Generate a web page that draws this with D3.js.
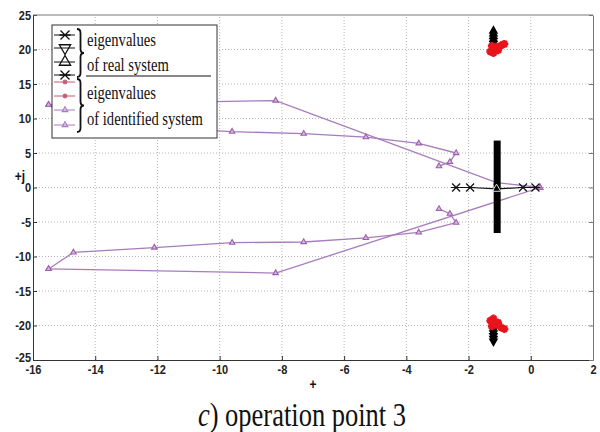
<!DOCTYPE html>
<html>
<head>
<meta charset="utf-8">
<script src="https://d3js.org/d3.v7.min.js"></script>
<style>
body { margin: 0; background: #fff; }
</style>
</head>
<body>
<div id="chart"></div>
<script>
// tick values
var xTicks = [-16, -14, -12, -10, -8, -6, -4, -2, 0, 2]
var yTicks = [-25, -20, -15, -10, -5, 0, 5, 10, 15, 20, 25]

// identified system, purple trajectories [re, im]
var idUpperA = [[-15.5, 12], [-8.2, 12.6], [-1.1, 0.7], [0.3, 0]]
var idUpperB = [[-15.5, 12], [-14.7, 9.4], [-12.1, 8.7], [-9.6, 8.1], [-7.3, 7.8], [-5.3, 7.3], [-3.6, 6.4], [-2.4, 5.0], [-2.6, 3.7], [-2.95, 3.1]]
var idLowerA = [[-15.5, -11.8], [-8.2, -12.4], [0.3, 0]]
var idLowerB = [[-15.5, -11.8], [-14.7, -9.4], [-12.1, -8.7], [-9.6, -8.0], [-7.3, -7.9], [-5.3, -7.3], [-3.6, -6.5], [-2.4, -5.1], [-2.6, -3.8], [-2.95, -3.1]]

// identified system, red points near +-20j
var redTop = [[-1.3, 19.7], [-1.2, 20.1], [-1.1, 20.4], [-0.95, 20.6], [-0.85, 20.8], [-1.25, 20.5], [-1.05, 19.9], [-1.2, 19.5]]
var redBottom = [[-1.3, -19.3], [-1.2, -19.6], [-1.1, -19.9], [-0.95, -20.3], [-0.85, -20.5], [-1.25, -20.1], [-1.05, -19.6], [-1.2, -19.0]]

// real system, black
var realAxis = [[-2.4, 0], [-1.95, 0], [-1.1, -0.2], [-0.25, 0], [0.15, 0]]
var realBar = [[-1.08, 6.8], [-1.08, -6.6]]
var realTop = [[-1.2, 22.7], [-1.2, 22.3], [-1.2, 21.9], [-1.2, 21.5], [-1.2, 21.1], [-1.2, 20.7], [-1.2, 20.3]]
var realBottom = [[-1.2, -20.3], [-1.2, -20.7], [-1.2, -21.1], [-1.2, -21.5], [-1.2, -21.9], [-1.2, -22.3]]

var purple = '#a77cbd'
var purpleMark = '#9c5fae'
var red = '#e8141c'
var serif = "'Liberation Serif', 'Times New Roman', Times, serif"
var sans = "'Liberation Sans', Arial, Helvetica, sans-serif"

var svg = d3.select('#chart').append('svg')
    .attr('width', 600)
    .attr('height', 432)

var x = d3.scaleLinear().domain([-16, 2]).range([33, 593])
var y = d3.scaleLinear().domain([-25, 25]).range([360, 15])

// grid
var grid = svg.append('g')
grid.selectAll('.gx').data(xTicks.slice(1, -1)).join('line')
    .attr('x1', d => x(d)).attr('x2', d => x(d))
    .attr('y1', y(-25)).attr('y2', y(25))
    .attr('stroke', '#b5b5b5').attr('stroke-dasharray', '1,2')
grid.selectAll('.gy').data(yTicks.slice(1, -1)).join('line')
    .attr('x1', x(-16)).attr('x2', x(2))
    .attr('y1', d => y(d)).attr('y2', d => y(d))
    .attr('stroke', '#b5b5b5').attr('stroke-dasharray', '1,2')

// text helper, the picture is stretched a bit vertically
function label(g, str, px, py, size, opts) {
    opts = opts || {}
    return g.append('text')
        .attr('transform', 'translate(' + px + ',' + py + ') scale(1,1.25)')
        .style('font-family', opts.family || serif)
        .style('font-size', size + 'px')
        .style('font-weight', opts.weight || 'normal')
        .attr('text-anchor', opts.anchor || 'start')
        .attr('fill', '#111')
        .text(str)
}

// axes
var xAxis = svg.append('g')
    .attr('transform', 'translate(0,' + y(-25) + ')')
    .call(d3.axisBottom(x).tickValues(xTicks).tickSizeInner(-4).tickSizeOuter(0).tickPadding(4).tickFormat(d => String(d)))
var yAxis = svg.append('g')
    .attr('transform', 'translate(' + x(-16) + ',0)')
    .call(d3.axisLeft(y).tickValues(yTicks).tickSizeInner(-4).tickSizeOuter(0).tickPadding(2).tickFormat(d => String(d)))
var rAxis = svg.append('g')
    .attr('transform', 'translate(' + x(2) + ',0)')
    .call(d3.axisRight(y).tickValues(yTicks).tickSizeInner(-4).tickSizeOuter(0).tickFormat(''))
svg.append('line')
    .attr('x1', x(-16)).attr('x2', x(2))
    .attr('y1', y(25)).attr('y2', y(25))
    .attr('stroke', '#777')

rAxis.selectAll('path, line').attr('stroke', '#777')
xAxis.selectAll('path, line').attr('stroke', '#333')
yAxis.selectAll('path, line').attr('stroke', '#333')
svg.selectAll('.tick text')
    .style('font-family', sans)
    .style('font-weight', 'bold')
    .style('font-size', '11px')
    .attr('fill', '#222')
    .attr('transform', 'scale(1,1.2)')
yAxis.select('.tick text').attr('dy', '0.1em')

// axis labels
label(svg, '+j', 20, 181, 12, {family: sans, weight: 'bold', anchor: 'middle'})
label(svg, '+', 313, 389, 12, {family: sans, weight: 'bold', anchor: 'middle'})

// caption
var cap = label(svg, '', 302, 426, 26.5, {anchor: 'middle'})
cap.append('tspan').style('font-style', 'italic').text('c')
cap.append('tspan').text(') operation point 3')

var line = d3.line().x(d => x(d[0])).y(d => y(d[1]))
var plot = svg.append('g')

// identified trajectories
;[idUpperA, idUpperB, idLowerA, idLowerB].forEach(function(series) {
    plot.append('path')
        .attr('d', line(series))
        .attr('fill', 'none')
        .attr('stroke', purple)
        .attr('stroke-width', 1.3)
    plot.selectAll(null).data(series).join('path')
        .attr('d', d3.symbol(d3.symbolTriangle, 13))
        .attr('transform', d => 'translate(' + x(d[0]) + ',' + y(d[1]) + ')')
        .attr('fill', '#d9b8e3')
        .attr('stroke', purpleMark)
        .attr('stroke-width', 1.1)
})

// real system
plot.append('path')
    .attr('d', line(realAxis))
    .attr('fill', 'none')
    .attr('stroke', '#111')
    .attr('stroke-width', 1.2)
plot.append('path')
    .attr('d', line(realBar))
    .attr('stroke', '#000')
    .attr('stroke-width', 7)

function cross(s) {
    return 'M' + (-s) + ',' + (-s) + 'L' + s + ',' + s + 'M' + (-s) + ',' + s + 'L' + s + ',' + (-s) + 'M' + (-s - 1) + ',0L' + (s + 1) + ',0'
}
plot.selectAll(null).data(realAxis.filter((d, i) => i != 2)).join('path')
    .attr('d', cross(4))
    .attr('transform', d => 'translate(' + x(d[0]) + ',' + y(d[1]) + ')')
    .attr('fill', 'none')
    .attr('stroke', '#111')
    .attr('stroke-width', 1.2)
plot.selectAll(null).data(realAxis.filter((d, i) => i == 2)).join('path')
    .attr('d', d3.symbol(d3.symbolTriangle, 30))
    .attr('transform', d => 'translate(' + x(d[0]) + ',' + y(d[1]) + ')')
    .attr('fill', 'none')
    .attr('stroke', '#ddd')
    .attr('stroke-width', 1)

plot.selectAll(null).data(realTop).join('path')
    .attr('d', d3.symbol(d3.symbolTriangle, 40))
    .attr('transform', d => 'translate(' + x(d[0]) + ',' + y(d[1]) + ')')
    .attr('fill', '#000')
plot.selectAll(null).data(realBottom).join('path')
    .attr('d', d3.symbol(d3.symbolTriangle, 40))
    .attr('transform', d => 'translate(' + x(d[0]) + ',' + y(d[1]) + ') rotate(180)')
    .attr('fill', '#000')

// red identified clusters
function star(s) {
    var t = s * 0.7
    return 'M' + (-s) + ',0L' + s + ',0M0,' + (-s) + 'L0,' + s + 'M' + (-t) + ',' + (-t) + 'L' + t + ',' + t + 'M' + (-t) + ',' + t + 'L' + t + ',' + (-t)
}
plot.selectAll(null).data(redTop.concat(redBottom)).join('path')
    .attr('d', star(4))
    .attr('transform', d => 'translate(' + x(d[0]) + ',' + y(d[1]) + ')')
    .attr('fill', 'none')
    .attr('stroke', red)
    .attr('stroke-width', 2.4)

// legend
var leg = svg.append('g')
leg.append('rect')
    .attr('x', 52).attr('y', 25)
    .attr('width', 165).attr('height', 113)
    .attr('fill', '#fff')
    .attr('stroke', '#333')

var blackRows = [35, 48, 62, 75]
var idRows = [82, 96, 110, 125]

blackRows.forEach(function(ry, i) {
    leg.append('line').attr('x1', 54).attr('x2', 75).attr('y1', ry).attr('y2', ry).attr('stroke', '#111')
    var m = leg.append('path')
        .attr('fill', 'none')
        .attr('stroke', '#111')
        .attr('stroke-width', 1.3)
    if (i == 0 || i == 3) {
        m.attr('d', cross(4.5)).attr('transform', 'translate(65,' + ry + ')')
    } else {
        m.attr('d', d3.symbol(d3.symbolTriangle, 55))
            .attr('transform', 'translate(65,' + ry + ')' + (i == 1 ? ' rotate(180)' : ''))
    }
})
idRows.forEach(function(ry, i) {
    var c = i < 2 ? '#c05a72' : purple
    leg.append('line').attr('x1', 54).attr('x2', 75).attr('y1', ry).attr('y2', ry).attr('stroke', c)
    var m = leg.append('path')
        .attr('transform', 'translate(65,' + ry + ')')
        .attr('fill', 'none')
        .attr('stroke', c)
        .attr('stroke-width', 1.1)
    if (i < 2) m.attr('d', star(2.5))
    else m.attr('d', d3.symbol(d3.symbolTriangle, 14))
})

// curly braces
function brace(bx, y0, y1, w) {
    var ym = (y0 + y1) / 2, h = 4
    return 'M' + bx + ',' + y0 +
        ' Q' + (bx + w / 2) + ',' + y0 + ' ' + (bx + w / 2) + ',' + (y0 + h) +
        ' L' + (bx + w / 2) + ',' + (ym - h) +
        ' Q' + (bx + w / 2) + ',' + ym + ' ' + (bx + w) + ',' + ym +
        ' Q' + (bx + w / 2) + ',' + ym + ' ' + (bx + w / 2) + ',' + (ym + h) +
        ' L' + (bx + w / 2) + ',' + (y1 - h) +
        ' Q' + (bx + w / 2) + ',' + y1 + ' ' + bx + ',' + y1
}
leg.append('path').attr('d', brace(77, 29, 77, 7)).attr('fill', 'none').attr('stroke', '#111').attr('stroke-width', 1.8)
leg.append('path').attr('d', brace(77, 79, 132, 7)).attr('fill', 'none').attr('stroke', '#111').attr('stroke-width', 1.8)

label(leg, 'eigenvalues', 87, 46, 14.6)
label(leg, 'of real system', 87, 71, 14.6)
leg.append('line').attr('x1', 86).attr('x2', 211).attr('y1', 76).attr('y2', 76).attr('stroke', '#111').attr('stroke-width', 1.2)
label(leg, 'eigenvalues', 87, 99, 14.6)
label(leg, 'of identified system', 87, 125, 14.6)
</script>
</body>
</html>
